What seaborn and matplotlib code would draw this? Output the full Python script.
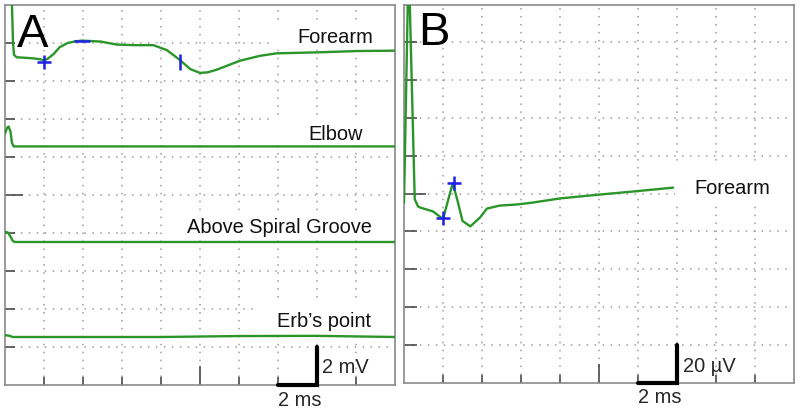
import matplotlib
matplotlib.use("Agg")
import matplotlib.pyplot as plt
import seaborn as sns
import pandas as pd
from matplotlib.patches import Rectangle

# ---------------- data ----------------
# Panel A (time in ms, amplitude in mV on a 0-20 mV screen)
a_forearm_t = [0.33, 0.37, 0.41, 0.46, 0.6, 1.0, 1.5, 1.8, 2.0, 2.2, 2.5, 2.8, 3.2, 3.6, 3.95,
               4.9, 5.74, 6.67, 7.6, 8.3, 8.97, 9.5, 10.0, 10.4, 10.86, 12.05, 13.08, 13.93,
               15.98, 18.04, 20.0]
a_forearm_v = [21.0, 19.5, 18.0, 17.35, 17.22, 17.2, 17.16, 17.12, 17.06, 17.15, 17.4, 17.75,
               17.97, 18.06, 18.1, 18.05, 17.89, 17.86, 17.86, 17.6, 17.08, 16.6, 16.4, 16.43,
               16.57, 17.04, 17.3, 17.43, 17.48, 17.55, 17.57]
a_elbow_t = [0.0, 0.1, 0.18, 0.28, 0.36, 0.45, 20.0]
a_elbow_v = [13.2, 13.5, 13.58, 13.32, 12.7, 12.53, 12.53]
a_spiral_t = [0.0, 0.15, 0.3, 0.4, 0.5, 20.0]
a_spiral_v = [8.03, 8.0, 7.75, 7.55, 7.5, 7.5]
a_erb_t = [0.0, 0.2, 0.4, 8.0, 12.0, 16.0, 18.0, 20.0]
a_erb_v = [2.6, 2.57, 2.5, 2.5, 2.55, 2.56, 2.53, 2.5]

a_labels = ["Forearm", "Elbow", "Above Spiral Groove", "Erb\u2019s point"]
a_label_t = [18.9, 18.36, 18.82, 18.77]
a_label_v = [18.03, 12.92, 8.03, 3.08]

# markers on the forearm trace of panel A: (t, v)
a_plus = (2.0, 17.0)
a_dash = (3.95, 18.1)
a_bar = (8.97, 17.0)

# Panel B (time in ms, amplitude in uV on a 0-200 uV screen)
b_t = [0.0, 0.22, 0.26, 0.55, 0.72, 0.82, 1.49, 2.0, 2.25, 2.5, 2.75, 3.0, 3.4, 3.9, 4.25,
       4.9, 5.8, 6.6, 8.0, 10.0, 11.7, 13.8]
b_v = [95, 215, 215, 97, 93.1, 92.6, 90.5, 86.5, 96, 105.5, 96, 85.5, 82.6, 87.3, 92.0,
       93.6, 94.2, 95.2, 97.4, 99.4, 101.0, 103.1]
b_plus_t = [2.0, 2.56]
b_plus_v = [86.8, 105.7]
b_label = "Forearm"

GREEN = "#2a962a"
BLUE = "#1f1fe6"

sns.set_style("white")
plt.rcParams["font.family"] = ["Liberation Sans", "DejaVu Sans"]

fig = plt.figure(figsize=(8, 4.1), dpi=100)
axA = fig.add_axes([5 / 800, 24.5 / 410, 390 / 800, 380 / 410])
axB = fig.add_axes([404 / 800, 26.5 / 410, 390 / 800, 378 / 410])


def style_axes(ax, xmax, ymax, xstep, ystep, left_len, left_center_len):
    ax.set_xlim(0, xmax)
    ax.set_ylim(0, ymax)
    xs = [xstep * i for i in range(1, 10)]
    ys = [ystep * i for i in range(1, 10)]
    ax.set_xticks([x for x in xs if x != xs[4]])
    ax.set_xticks([xs[4]], minor=True)
    ax.set_yticks([y for y in ys if y != ys[4]])
    ax.set_yticks([ys[4]], minor=True)
    ax.tick_params(which="both", direction="in", labelbottom=False, labelleft=False,
                   color="#3c3c3c", width=1.1, top=False, right=False,
                   bottom=True, left=True)
    ax.tick_params(axis="x", which="major", length=5.8)
    ax.tick_params(axis="x", which="minor", length=13.7)
    ax.tick_params(axis="y", which="major", length=left_len)
    ax.tick_params(axis="y", which="minor", length=left_center_len)
    ax.grid(which="both", color="#9c9c9c", linewidth=1.1, linestyle=(0, (1, 4.2)))
    ax.set_axisbelow(True)
    for s in ax.spines.values():
        s.set_color("#8a8a8a")
        s.set_linewidth(1.2)
        s.set_visible(True)
    ax.set_xlabel("")
    ax.set_ylabel("")


# ---------------- panel A ----------------
traces = [(a_forearm_t, a_forearm_v), (a_elbow_t, a_elbow_v),
          (a_spiral_t, a_spiral_v), (a_erb_t, a_erb_v)]
for tt, vv in traces:
    df = pd.DataFrame({"t": tt, "v": vv})
    sns.lineplot(data=df, x="t", y="v", ax=axA, color=GREEN, linewidth=1.7,
                 sort=False, estimator=None, zorder=3)

style_axes(axA, 20, 20, 2, 2, 7.2, 13.0)

# white label backgrounds (t0, t1, v0, v1)
a_boxes = [(13.59, 20, 17.66, 19.03), (13.85, 20, 12.66, 14.13),
           (8.1, 20, 7.66, 9.13), (12.92, 20, 2.87, 4.34)]
for t0, t1, v0, v1 in a_boxes:
    axA.add_patch(Rectangle((t0, v0), t1 - t0, v1 - v0, facecolor="white",
                            edgecolor="none", zorder=1.5))

for lab, tx, vy in zip(a_labels, a_label_t, a_label_v):
    axA.text(tx, vy, lab, ha="right", va="baseline", fontsize=14.4, color="#111111", zorder=4)

axA.plot([a_plus[0]], [a_plus[1]], marker="+", markersize=10, mew=1.8, color=BLUE,
         linestyle="none", zorder=5)
axA.plot([a_dash[0]], [a_dash[1]], marker="_", markersize=11, mew=1.8, color=BLUE,
         linestyle="none", zorder=5)
axA.plot([a_bar[0]], [a_bar[1]], marker="|", markersize=11, mew=1.8, color=BLUE,
         linestyle="none", zorder=5)

axA.text(0.62, 17.82, "A", fontsize=34, ha="left", va="baseline", color="black", zorder=6)

# scale bar A: 2 ms x 2 mV
axA.plot([14, 16, 16], [0, 0, 2], color="black", linewidth=3, solid_joinstyle="miter",
         clip_on=False, zorder=6)
axA.text(16.28, 0.66, "2 mV", fontsize=14.4, ha="left", va="baseline", zorder=6)
axA.text(14.0, -1.08, "2 ms", fontsize=14.4, ha="left", va="baseline", zorder=6)

# ---------------- panel B ----------------
dfb = pd.DataFrame({"t": b_t, "v": b_v})
sns.lineplot(data=dfb, x="t", y="v", ax=axB, color=GREEN, linewidth=1.7,
             sort=False, estimator=None, zorder=3)
style_axes(axB, 20, 200, 2, 20, 9.4, 15.8)

axB.add_patch(Rectangle((13.9, 96.0), 6.1, 18.6, facecolor="white", edgecolor="none",
                        zorder=1.5))
axB.text(18.77, 100.2, b_label, ha="right", va="baseline", fontsize=14.4, color="#111111",
         zorder=4)
axB.plot(b_plus_t, b_plus_v, marker="+", markersize=10, mew=1.8, color=BLUE,
         linestyle="none", zorder=5)
axB.text(0.74, 179.1, "B", fontsize=34, ha="left", va="baseline", color="black", zorder=6)

# scale bar B: 2 ms x 20 uV
axB.plot([12, 14, 14], [0, 0, 20], color="black", linewidth=3, solid_joinstyle="miter",
         clip_on=False, zorder=6)
axB.text(14.32, 6.1, "20 \u00b5V", fontsize=14.4, ha="left", va="baseline", zorder=6)
axB.text(12.0, -10.3, "2 ms", fontsize=14.4, ha="left", va="baseline", zorder=6)

fig.savefig("out.png", dpi=100)
